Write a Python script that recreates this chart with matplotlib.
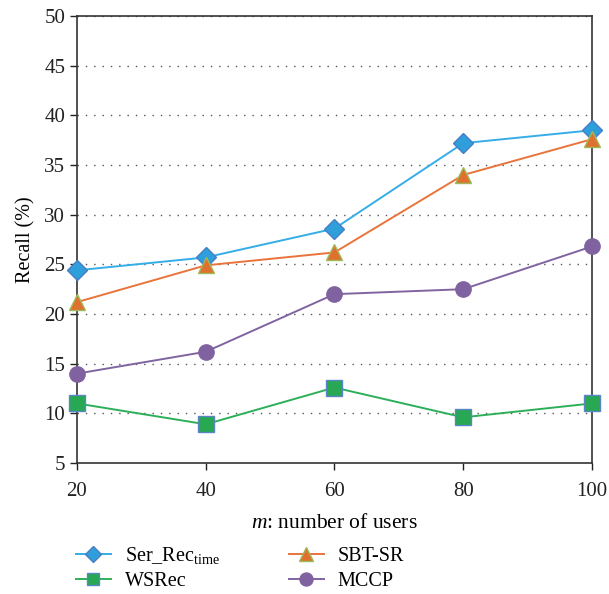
import matplotlib
matplotlib.use("Agg")
import matplotlib.pyplot as plt

plt.rcParams['font.family'] = ['Liberation Serif', 'DejaVu Serif']
plt.rcParams['mathtext.fontset'] = 'custom'
plt.rcParams['mathtext.rm'] = 'Liberation Serif'
plt.rcParams['mathtext.it'] = 'Liberation Serif:italic'

users = [20, 40, 60, 80, 100]
ser_rec = [24.4, 25.7, 28.6, 37.2, 38.5]
sbt_sr = [21.2, 24.9, 26.2, 34.0, 37.6]
wsrec = [11.0, 8.9, 12.6, 9.6, 11.0]
mccp = [14.0, 16.2, 22.0, 22.5, 26.8]
yticks = [5, 10, 15, 20, 25, 30, 35, 40, 45, 50]

fig = plt.figure(figsize=(6.09, 5.94), dpi=100)
ax = fig.add_axes([0.1264, 0.2205, 0.8456, 0.7525])

kw = dict(lw=1.4, clip_on=False, zorder=3)
ax.plot(users, ser_rec, color='#35ADE6', marker='D', ms=10,
        mfc='#2E9FDB', mec='#4A7EC4', mew=1.0, label='Ser_Rec$_{\\mathrm{time}}$', **kw)
ax.plot(users, wsrec, color='#2DAF5A', marker='s', ms=11,
        mfc='#28A853', mec='#5B86C6', mew=1.0, label='WSRec', **kw)
ax.plot(users, sbt_sr, color='#E8743B', marker='^', ms=12,
        mfc='#E0702F', mec='#9BBB59', mew=1.0, label='SBT-SR', **kw)
ax.plot(users, mccp, color='#8064A2', marker='o', ms=11,
        mfc='#7F629F', mec='#7F629F', mew=1.0, label='MCCP', **kw)

ax.set_xlim(20, 100)
ax.set_ylim(5, 50)
ax.set_xticks(users)
ax.set_yticks(yticks)
ax.tick_params(direction='out', length=5, width=1, labelsize=15, colors='#222222')
ax.tick_params(axis='x', pad=9)
ax.yaxis.grid(True, linestyle=(0, (1, 5)), color='#555555', lw=1)
ax.set_axisbelow(True)
for s in ax.spines.values():
    s.set_color('#333333')
    s.set_linewidth(1.2)

ax.set_xlabel('$m$: number of users', fontsize=15.5, labelpad=9)
ax.set_ylabel('Recall (%)', fontsize=14.5, labelpad=6)

h, l = ax.get_legend_handles_labels()
leg = fig.legend(h, l, ncol=2,
                 loc='upper left', bbox_to_anchor=(0.103, 0.104), frameon=False,
                 fontsize=14.5, handlelength=1.75, handletextpad=0.7, columnspacing=3.4,
                 labelspacing=0.28, markerscale=0.85, borderpad=0.15)
fig.savefig('out.png', dpi=100)
